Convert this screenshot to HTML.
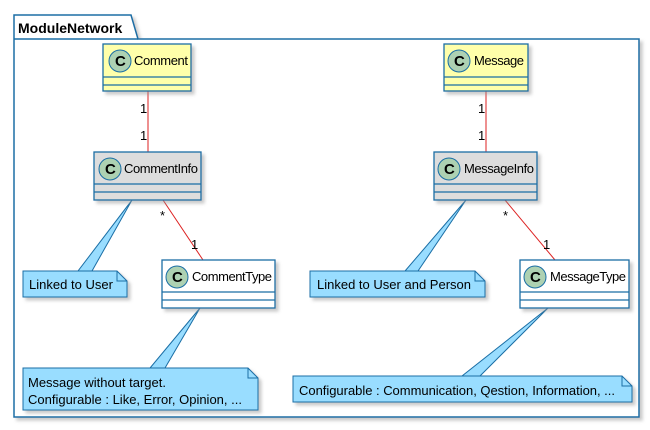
<!DOCTYPE html>
<html><head><meta charset="utf-8"><style>
html,body{margin:0;padding:0;background:#fff;width:650px;height:430px;overflow:hidden}
text{font-family:"Liberation Sans",sans-serif;font-size:13px;fill:#000}
</style></head><body>
<svg width="650" height="430" viewBox="0 0 650 430" xmlns="http://www.w3.org/2000/svg">
<defs>
<filter id="sh" x="-10%" y="-10%" width="130%" height="140%"><feGaussianBlur in="SourceAlpha" stdDeviation="1.5"/><feOffset dx="3" dy="3"/><feColorMatrix values="0 0 0 0 0.3 0 0 0 0 0.3 0 0 0 0 0.3 0 0 0 0.5 0"/><feMerge><feMergeNode/><feMergeNode in="SourceGraphic"/></feMerge></filter>
<g id="ci"><circle r="11" fill="#ADD1B2" stroke="#1a6ea5" stroke-width="1"/><text x="-5" y="5" style="font-weight:bold;font-size:15px">C</text></g>
</defs>
<g filter="url(#sh)">
<path d="M14,39 L14,15 L131,15 L138,39 L639,39 L639,417 L14,417 Z" fill="#fff" stroke="#1a6ea5" stroke-width="1.5"/>
</g>
<line x1="14" y1="39" x2="138" y2="39" stroke="#1a6ea5" stroke-width="1.5"/>
<text x="18" y="33" style="font-weight:bold;font-size:14px">ModuleNetwork</text>

<line x1="148" y1="91" x2="148" y2="152" stroke="#d22" stroke-width="1"/>
<text x="140" y="113">1</text><text x="140" y="140">1</text>
<line x1="163" y1="200" x2="203" y2="260" stroke="#d22" stroke-width="1"/>
<text x="160" y="220">*</text><text x="191" y="249">1</text>
<line x1="486" y1="91" x2="486" y2="152" stroke="#d22" stroke-width="1"/>
<text x="478" y="113">1</text><text x="478" y="140">1</text>
<line x1="505" y1="200" x2="555" y2="260" stroke="#d22" stroke-width="1"/>
<text x="503" y="220">*</text><text x="543" y="249">1</text>

<g fill="#99DDFF" stroke="#1a6ea5" stroke-width="1">
<path d="M132,200 L92,271 L78,271 Z"/>
<path d="M200,308 L165,368 L150,368 Z"/>
<path d="M466,200 L418,271 L405,271 Z"/>
<path d="M548,308 L480,376 L462,376 Z"/>
</g>

<g filter="url(#sh)" stroke="#1a6ea5" stroke-width="1.3">
<rect x="103" y="44" width="88" height="47" fill="#FFFFAA"/>
<rect x="94" y="152" width="107" height="48" fill="#DDDDDD"/>
<rect x="162" y="260" width="113" height="48" fill="#fff"/>
<rect x="444" y="44" width="84" height="47" fill="#FFFFAA"/>
<rect x="434" y="152" width="103" height="48" fill="#DDDDDD"/>
<rect x="520" y="260" width="109" height="48" fill="#fff"/>
</g>
<g stroke="#1a6ea5" stroke-width="1.3">
<line x1="103" y1="77" x2="191" y2="77"/><line x1="103" y1="85" x2="191" y2="85"/>
<line x1="94" y1="184" x2="201" y2="184"/><line x1="94" y1="192" x2="201" y2="192"/>
<line x1="162" y1="292" x2="275" y2="292"/><line x1="162" y1="300" x2="275" y2="300"/>
<line x1="444" y1="77" x2="528" y2="77"/><line x1="444" y1="85" x2="528" y2="85"/>
<line x1="434" y1="184" x2="537" y2="184"/><line x1="434" y1="192" x2="537" y2="192"/>
<line x1="520" y1="292" x2="629" y2="292"/><line x1="520" y1="300" x2="629" y2="300"/>
</g>
<use href="#ci" x="120" y="61"/><text x="134" y="65" textLength="54">Comment</text>
<use href="#ci" x="110" y="169"/><text x="124" y="173" textLength="74">CommentInfo</text>
<use href="#ci" x="177" y="277"/><text x="192" y="281" textLength="80">CommentType</text>
<use href="#ci" x="459" y="61"/><text x="474" y="65" textLength="50">Message</text>
<use href="#ci" x="449" y="169"/><text x="464" y="173" textLength="70">MessageInfo</text>
<use href="#ci" x="535" y="277"/><text x="550" y="281" textLength="76">MessageType</text>

<g filter="url(#sh)" fill="#99DDFF" stroke="#1a6ea5" stroke-width="1">
<path d="M23,271 L117,271 L127,281 L127,297 L23,297 Z"/>
<path d="M23,368 L248,368 L258,378 L258,410 L23,410 Z"/>
<path d="M310,271 L475,271 L485,281 L485,297 L310,297 Z"/>
<path d="M293,376 L622,376 L632,386 L632,402 L293,402 Z"/>
</g>
<g fill="none" stroke="#1a6ea5" stroke-width="1">
<path d="M117,271 L117,281 L127,281"/>
<path d="M248,368 L248,378 L258,378"/>
<path d="M475,271 L475,281 L485,281"/>
<path d="M622,376 L622,386 L632,386"/>
</g>
<text x="29" y="289" textLength="84">Linked to User</text>
<text x="28" y="387" textLength="138">Message without target.</text>
<text x="28" y="404" textLength="214">Configurable : Like, Error, Opinion, ...</text>
<text x="317" y="289" textLength="154">Linked to User and Person</text>
<text x="299" y="395" textLength="316">Configurable : Communication, Qestion, Information, ...</text>
</svg>
</body></html>
